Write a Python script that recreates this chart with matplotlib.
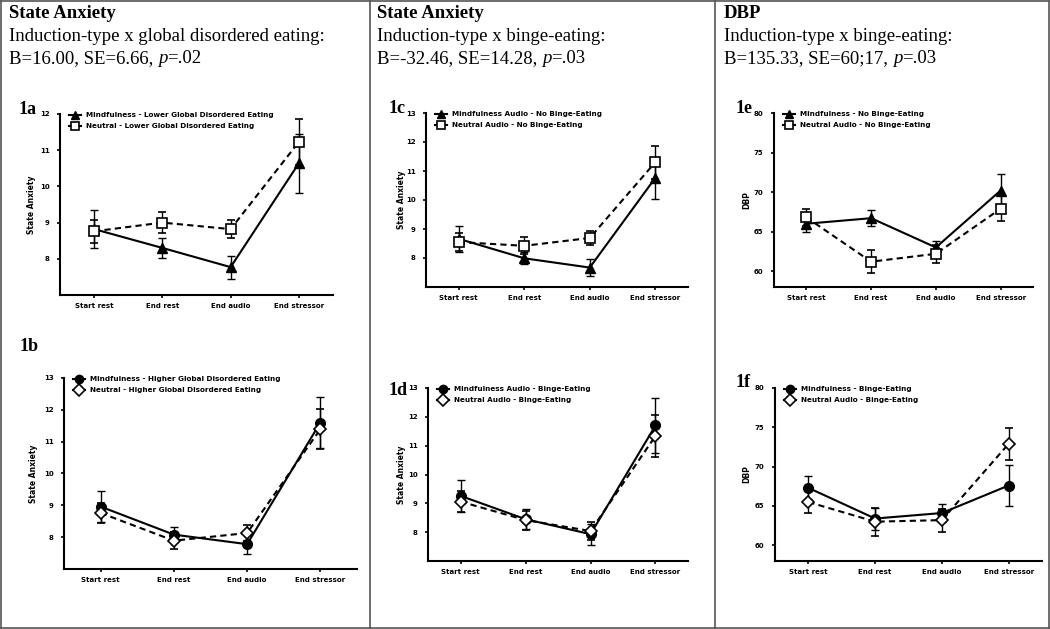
import numpy as np
import matplotlib
matplotlib.use('Agg')
import matplotlib.pyplot as plt
from matplotlib.lines import Line2D

plt.rcParams['font.family'] = 'DejaVu Sans'
plt.rcParams['font.weight'] = 'bold'

## Data
stages = ['Start rest', 'End rest', 'End audio', 'End stressor']

# 1a - State anxiety, lower global disordered eating
a_mind = [8.82, 8.30, 7.77, 10.64]
a_mind_se = [0.52, 0.27, 0.32, 0.82]
a_neut = [8.76, 9.00, 8.82, 11.23]
a_neut_se = [0.31, 0.28, 0.24, 0.63]

# 1b - State anxiety, higher global disordered eating
b_mind = [8.96, 8.08, 7.78, 11.60]
b_mind_se = [0.48, 0.24, 0.30, 0.79]
b_neut = [8.76, 7.89, 8.13, 11.39]
b_neut_se = [0.30, 0.27, 0.24, 0.63]

# 1c - State anxiety, no binge-eating
c_mind = [8.66, 7.99, 7.67, 10.76]
c_mind_se = [0.45, 0.21, 0.30, 0.71]
c_neut = [8.55, 8.42, 8.69, 11.30]
c_neut_se = [0.30, 0.29, 0.24, 0.57]

# 1d - State anxiety, binge-eating
d_mind = [9.26, 8.45, 7.93, 11.70]
d_mind_se = [0.55, 0.34, 0.37, 0.97]
d_neut = [9.06, 8.42, 8.04, 11.34]
d_neut_se = [0.36, 0.33, 0.30, 0.74]

# 1e - DBP, no binge-eating
e_mind = [66.0, 66.7, 63.0, 70.2]
e_mind_se = [1.0, 1.05, 0.85, 2.1]
e_neut = [66.8, 61.2, 62.2, 67.9]
e_neut_se = [1.1, 1.45, 1.15, 1.6]

# 1f - DBP, binge-eating
f_mind = [67.3, 63.4, 64.1, 67.6]
f_mind_se = [1.45, 1.4, 1.15, 2.6]
f_neut = [65.5, 63.0, 63.2, 72.9]
f_neut_se = [1.45, 1.8, 1.45, 2.05]

# header: title, line 2, line 3 split around the italic p
headers = [
    ('State Anxiety', 'Induction-type x global disordered eating:',
     'B=16.00, SE=6.66, ', '=.02'),
    ('State Anxiety', 'Induction-type x binge-eating:',
     'B=-32.46, SE=14.28, ', '=.03'),
    ('DBP', 'Induction-type x binge-eating:',
     'B=135.33, SE=60;17, ', '=.03'),
]

W, H = 1050, 629
fig = plt.figure(figsize=(W / 100, H / 100), dpi=100)
renderer = fig.canvas.get_renderer()


def px_axes(l, t, r, b):
    return fig.add_axes([l / W, 1 - b / H, (r - l) / W, (b - t) / H])


def draw(ax, mind, mind_se, neut, neut_se, mk_fill, mk_open, labels,
         ylim, yticks, ylabel, ylab_x):
    x = np.arange(len(stages))
    ax.errorbar(x, mind, yerr=mind_se, color='black', ls='-', lw=1.5,
                marker=mk_fill, ms=7, mfc='black', mec='black',
                capsize=3, elinewidth=1, capthick=1, clip_on=False)
    ax.errorbar(x, neut, yerr=neut_se, color='black', ls='--', dashes=(3, 2),
                lw=1.5, marker=mk_open, ms=7 if mk_open == 's' else 6.5,
                mfc='white', mec='black', mew=1.2,
                capsize=3, elinewidth=1, capthick=1, clip_on=False)
    ax.set_xlim(-0.5, 3.5)
    ax.set_ylim(*ylim)
    ax.set_yticks(yticks)
    ax.set_xticks(x, stages)
    for s in ['top', 'right']:
        ax.spines[s].set_visible(False)
    for s in ['left', 'bottom']:
        ax.spines[s].set_linewidth(1.5)
    ax.tick_params(axis='y', length=2.5, width=1.2, labelsize=5, pad=5)
    ax.tick_params(axis='x', length=2.5, width=1.2, labelsize=5, pad=3)

    handles = [Line2D([], [], color='black', lw=1.5, marker=mk_fill, ms=6,
                      mfc='black'),
               Line2D([], [], color='black', lw=1.5, marker=mk_open, ms=6,
                      mfc='white', mew=1.2)]
    bb = ax.get_position()
    wpx, hpx = bb.width * W, bb.height * H
    ax.legend(handles, labels, loc='upper left', frameon=False, fontsize=5.2,
              bbox_to_anchor=(9 / wpx, 1 + 2 / hpx), borderpad=0,
              borderaxespad=0, handlelength=1.6, handletextpad=0.8,
              labelspacing=0.7)
    fig.text(ylab_x / W, bb.y0 + bb.height / 2, ylabel, rotation=90,
             ha='center', va='center', fontsize=5.5)


# panel boxes in pixels: left, top, right, bottom
ax_a = px_axes(60, 114, 333, 295)
ax_b = px_axes(64, 378, 357, 569)
ax_c = px_axes(426, 113, 688, 287)
ax_d = px_axes(428, 388, 688, 561)
ax_e = px_axes(774, 113, 1033, 287)
ax_f = px_axes(775, 388, 1042, 561)

sa_ticks = [8, 9, 10, 11, 12]
draw(ax_a, a_mind, a_mind_se, a_neut, a_neut_se, '^', 's',
     ['Mindfulness - Lower Global Disordered Eating',
      'Neutral - Lower Global Disordered Eating'],
     (7, 12), sa_ticks, 'State Anxiety', 32)
draw(ax_b, b_mind, b_mind_se, b_neut, b_neut_se, 'o', 'D',
     ['Mindfulness - Higher Global Disordered Eating',
      'Neutral - Higher Global Disordered Eating'],
     (7, 13), sa_ticks + [13], 'State Anxiety', 33)
draw(ax_c, c_mind, c_mind_se, c_neut, c_neut_se, '^', 's',
     ['Mindfulness Audio - No Binge-Eating',
      'Neutral Audio - No Binge-Eating'],
     (7, 13), sa_ticks + [13], 'State Anxiety', 402)
draw(ax_d, d_mind, d_mind_se, d_neut, d_neut_se, 'o', 'D',
     ['Mindfulness Audio - Binge-Eating',
      'Neutral Audio - Binge-Eating'],
     (7, 13), sa_ticks + [13], 'State Anxiety', 402)
draw(ax_e, e_mind, e_mind_se, e_neut, e_neut_se, '^', 's',
     ['Mindfulness - No Binge-Eating',
      'Neutral Audio - No Binge-Eating'],
     (58, 80), [60, 65, 70, 75, 80], 'DBP', 747)
draw(ax_f, f_mind, f_mind_se, f_neut, f_neut_se, 'o', 'D',
     ['Mindfulness - Binge-Eating',
      'Neutral Audio - Binge-Eating'],
     (58, 80), [60, 65, 70, 75, 80], 'DBP', 747)

# panel labels
for lab, x, y in [('1a', 19, 114), ('1b', 20, 351), ('1c', 389, 113),
                  ('1d', 389, 395), ('1e', 736, 113), ('1f', 736, 387)]:
    fig.text(x / W, 1 - y / H, lab, family='Liberation Serif',
             fontweight='bold', fontsize=13, va='baseline')

# column headers
hfs = 13.5
for (t1, t2, t3a, t3b), x in zip(headers, [9, 377, 724]):
    fig.text(x / W, 1 - 18 / H, t1, family='Liberation Serif',
             fontweight='bold', fontsize=hfs, va='baseline')
    fig.text(x / W, 1 - 41 / H, t2, family='Liberation Serif',
             fontweight='normal', fontsize=hfs, va='baseline')
    # third line: plain text, italic p, plain text
    xx = x
    for part, style in [(t3a, 'normal'), ('p', 'italic'), (t3b, 'normal')]:
        t = fig.text(xx / W, 1 - 63 / H, part, family='Liberation Serif',
                     fontweight='normal', style=style, fontsize=hfs,
                     va='baseline')
        xx += t.get_window_extent(renderer=renderer).width

# table borders
bc = '#555555'
for xs, ys in [([1, 1049], [1, 1]), ([1, 1049], [628, 628]),
               ([1, 1], [1, 628]), ([1049, 1049], [1, 628]),
               ([370, 370], [1, 628]), ([715, 715], [1, 628])]:
    fig.add_artist(Line2D([x / W for x in xs], [1 - y / H for y in ys],
                          color=bc, lw=1.2))

plt.savefig('out.png', dpi=100)
